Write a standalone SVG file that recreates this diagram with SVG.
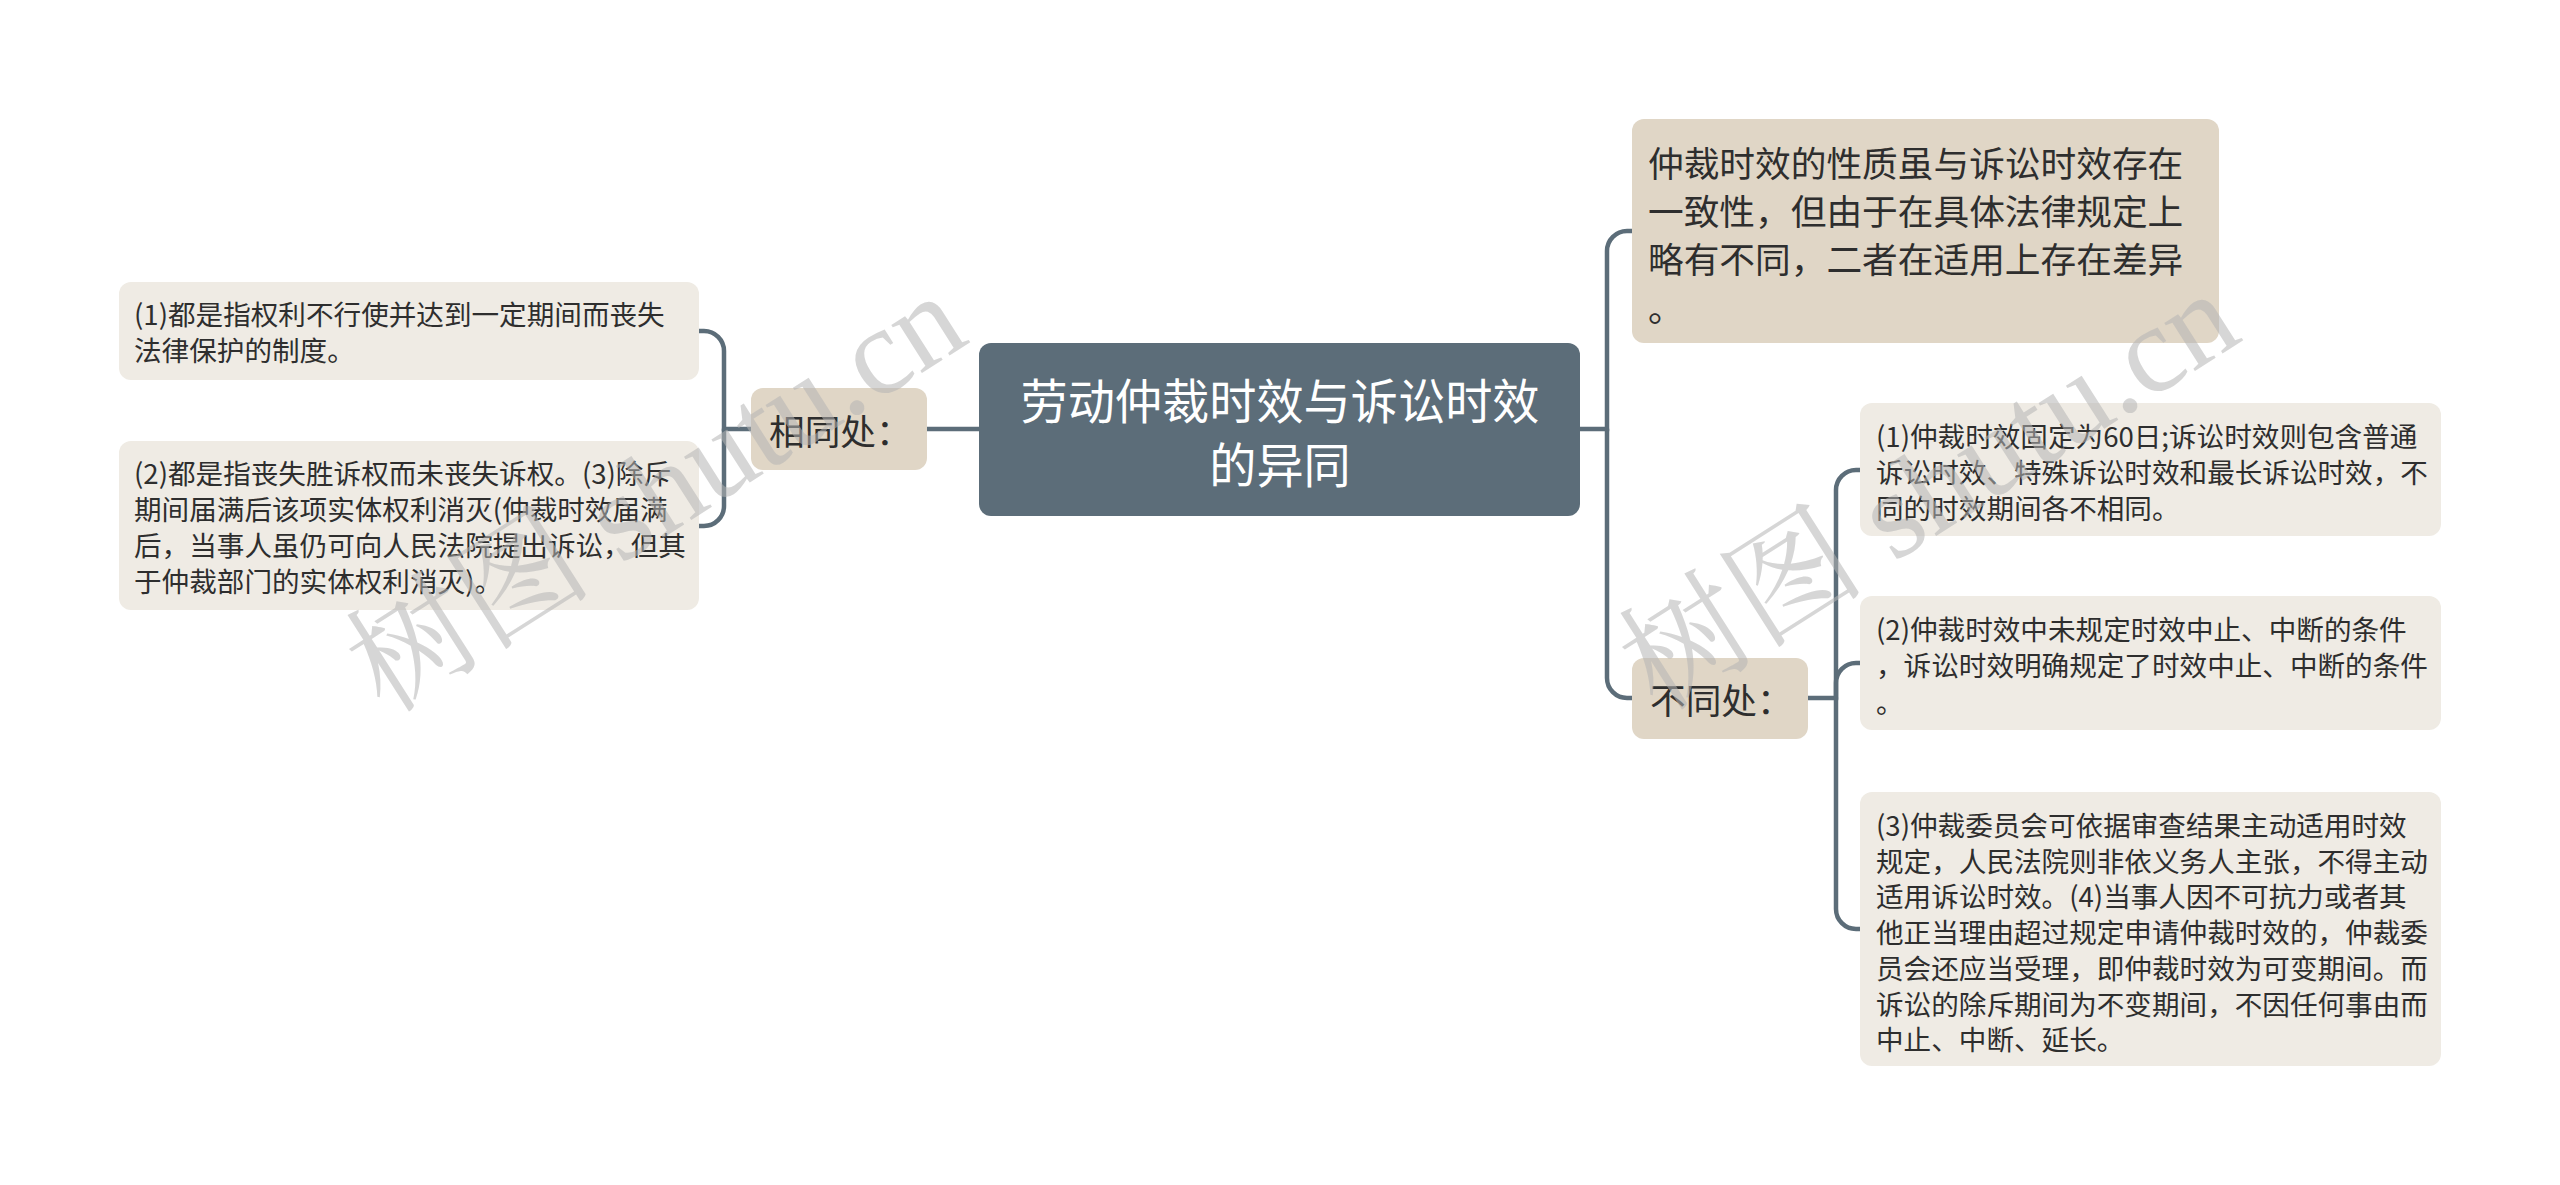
<svg xmlns="http://www.w3.org/2000/svg" width="2560" height="1185" viewBox="0 0 2560 1185">
<defs>
<style>
.bg{fill:#ffffff}
.root{fill:#5c6d79}
.l1{fill:#e0d6c6}
.leaf{fill:#efebe4}
.conn{fill:none;stroke:#5c6d79;stroke-width:4.5;stroke-linecap:round}
.t{font-family:"Noto Sans CJK SC","Noto Sans",sans-serif;fill:#2e2e2e;dominant-baseline:central}
.tr{font-family:"Noto Sans CJK SC","Noto Sans",sans-serif;fill:#ffffff;font-size:47.2px;text-anchor:middle;dominant-baseline:central}
.t1{font-size:35.7px}
.t2{font-size:27.6px}
.wm{font-family:"Liberation Serif","Noto Serif CJK SC","Noto Sans CJK SC",serif;font-size:124px;fill:#b4b4b4;fill-opacity:0.55}
</style>
</defs>
<rect class="bg" x="0" y="0" width="2560" height="1185"/>

<g id="connectors">
<path class="conn" d="M979,429 H927"/>
<path class="conn" d="M751,429 H724 V351 A20,20 0 0 0 704,331 H699"/>
<path class="conn" d="M724,429 V506 A20,20 0 0 1 704,526 H699"/>
<path class="conn" d="M1580,429 H1607 V251 A20,20 0 0 1 1627,231 H1632"/>
<path class="conn" d="M1607,429 V678 A20,20 0 0 0 1627,698 H1632"/>
<path class="conn" d="M1808,698 H1836 V490 A20,20 0 0 1 1856,470 H1860"/>
<path class="conn" d="M1836,698 V683 A20,20 0 0 1 1856,663 H1860"/>
<path class="conn" d="M1836,698 V909 A20,20 0 0 0 1856,929 H1860"/>
</g>

<g id="root">
<rect class="root" x="979" y="343" width="601" height="173" rx="12"/>
<text class="tr" x="1280" y="398">劳动仲裁时效与诉讼时效</text>
<text class="tr" x="1280" y="462">的异同</text>
</g>

<g id="same">
<rect class="l1" x="751" y="388" width="176" height="82" rx="12"/>
<text class="t t1" x="769" y="429">相同处：</text>
</g>

<g id="same1">
<rect class="leaf" x="119" y="282" width="580" height="98" rx="12"/>
<text class="t t2" x="134" y="313">(1)都是指权利不行使并达到一定期间而丧失</text>
<text class="t t2" x="134" y="349">法律保护的制度。</text>
</g>

<g id="same2">
<rect class="leaf" x="119" y="441" width="580" height="169" rx="12"/>
<text class="t t2" x="134" y="472">(2)都是指丧失胜诉权而未丧失诉权。(3)除斥</text>
<text class="t t2" x="134" y="508">期间届满后该项实体权利消灭(仲裁时效届满</text>
<text class="t t2" x="134" y="544">后，当事人虽仍可向人民法院提出诉讼，但其</text>
<text class="t t2" x="134" y="580">于仲裁部门的实体权利消灭)。</text>
</g>

<g id="nature">
<rect class="l1" x="1632" y="119" width="587" height="224" rx="12"/>
<text class="t t1" x="1648" y="161">仲裁时效的性质虽与诉讼时效存在</text>
<text class="t t1" x="1648" y="209">一致性，但由于在具体法律规定上</text>
<text class="t t1" x="1648" y="257">略有不同，二者在适用上存在差异</text>
<text class="t t1" x="1648" y="306">。</text>
</g>

<g id="diff">
<rect class="l1" x="1632" y="658" width="176" height="81" rx="12"/>
<text class="t t1" x="1650" y="698">不同处：</text>
</g>

<g id="diff1">
<rect class="leaf" x="1860" y="403" width="581" height="133" rx="12"/>
<text class="t t2" x="1876" y="435">(1)仲裁时效固定为60日;诉讼时效则包含普通</text>
<text class="t t2" x="1876" y="471">诉讼时效、特殊诉讼时效和最长诉讼时效，不</text>
<text class="t t2" x="1876" y="507">同的时效期间各不相同。</text>
</g>

<g id="diff2">
<rect class="leaf" x="1860" y="596" width="581" height="134" rx="12"/>
<text class="t t2" x="1876" y="628">(2)仲裁时效中未规定时效中止、中断的条件</text>
<text class="t t2" x="1876" y="664">，诉讼时效明确规定了时效中止、中断的条件</text>
<text class="t t2" x="1876" y="701">。</text>
</g>

<g id="diff3">
<rect class="leaf" x="1860" y="792" width="581" height="274" rx="12"/>
<text class="t t2" x="1876" y="824">(3)仲裁委员会可依据审查结果主动适用时效</text>
<text class="t t2" x="1876" y="860">规定，人民法院则非依义务人主张，不得主动</text>
<text class="t t2" x="1876" y="895">适用诉讼时效。(4)当事人因不可抗力或者其</text>
<text class="t t2" x="1876" y="931">他正当理由超过规定申请仲裁时效的，仲裁委</text>
<text class="t t2" x="1876" y="967">员会还应当受理，即仲裁时效为可变期间。而</text>
<text class="t t2" x="1876" y="1003">诉讼的除斥期间为不变期间，不因任何事由而</text>
<text class="t t2" x="1876" y="1038">中止、中断、延长。</text>
</g>

<g id="watermarks">
<text class="wm" x="0" y="0" transform="translate(385,715) rotate(-32.5)">树图 shutu.cn</text>
<text class="wm" x="0" y="0" transform="translate(1658,713) rotate(-32.5)">树图 shutu.cn</text>
</g>
</svg>
